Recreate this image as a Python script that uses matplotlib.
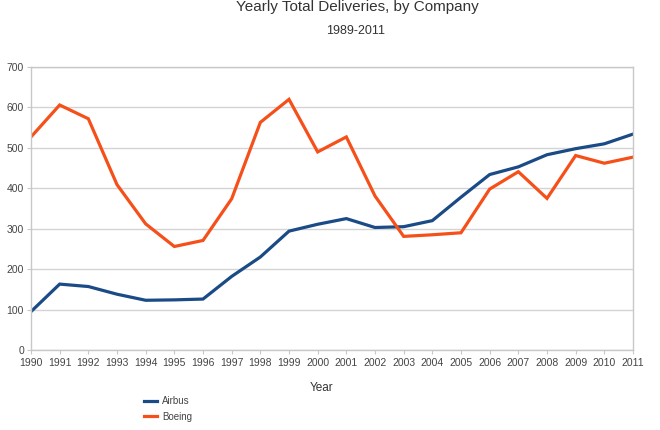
import matplotlib
matplotlib.use("Agg")
import matplotlib.pyplot as plt

years = list(range(1990, 2012))
airbus = [95, 163, 157, 138, 123, 124, 126, 182, 230, 294, 311, 325, 303, 305, 320, 378, 434, 453, 483, 498, 510, 534]
boeing = [527, 606, 572, 409, 312, 256, 271, 374, 563, 620, 490, 527, 381, 281, 285, 290, 398, 441, 375, 481, 462, 477]

title = "Yearly Total Deliveries, by Company"
subtitle = "1989-2011"

plt.rcParams['font.family'] = ['Liberation Sans', 'DejaVu Sans']
fig = plt.figure(figsize=(6.6, 4.3), dpi=100)
ax = fig.add_axes([31/660, 1-350/430, (633-31)/660, (350-67)/430])

la, = ax.plot(years, airbus, color='#1a4b86', lw=2.3, label='Airbus', solid_joinstyle='miter')
lb, = ax.plot(years, boeing, color='#f5501a', lw=2.3, label='Boeing', solid_joinstyle='miter')

ax.set_xlim(1990, 2011)
ax.set_ylim(0, 700)
ax.set_yticks(range(0, 701, 100))
ax.set_xticks(years)
ax.set_xticklabels([str(y) for y in years])
ax.grid(axis='y', color='#d4d4d4', lw=1)
ax.set_axisbelow(True)
for s in ax.spines.values():
    s.set_color('#c8c8c8')
    s.set_linewidth(1)
ax.tick_params(axis='both', labelsize=7.5, colors='#c8c8c8', labelcolor='#444444', length=3)
ax.tick_params(axis='x', pad=3)
ax.tick_params(axis='y', pad=2)

fig.text(357/660, 1-11/430, title, ha='center', va='baseline', fontsize=11, color='#333333')
fig.text(356/660, 1-31/430, subtitle, ha='center', va='center', fontsize=9, color='#333333')
fig.text(322/660, 1-388/430, 'Year', ha='center', va='center', fontsize=8.5, color='#333333')

leg = fig.legend(handles=[la, lb], loc='upper left', bbox_to_anchor=(144/660, 1-396/430),
                 frameon=False, fontsize=7, handlelength=1.3, handletextpad=0.6,
                 labelspacing=0.6, borderaxespad=0, borderpad=0)
for t in leg.get_texts():
    t.set_color('#444444')

fig.savefig('out.png', dpi=100)
